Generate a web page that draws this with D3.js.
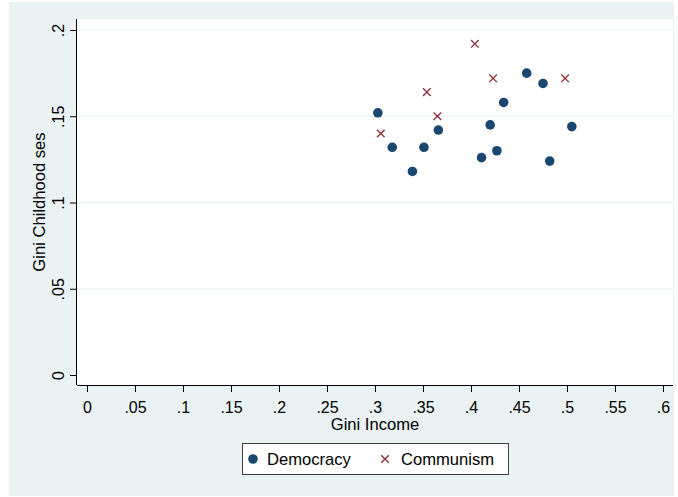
<!DOCTYPE html>
<html>
<head>
<meta charset="utf-8">
<script src="https://cdn.jsdelivr.net/npm/d3@7"></script>
<style>
  body { margin: 0; background: #fff; }
  svg text { font-family: "Liberation Sans", Arial, sans-serif; fill: #000; }
</style>
</head>
<body>
<div id="chart"></div>
<script>
// data
const democracy_x = [0.303, 0.318, 0.351, 0.339, 0.366, 0.420, 0.434, 0.411, 0.427, 0.458, 0.475, 0.482, 0.505];
const democracy_y = [0.152, 0.132, 0.132, 0.118, 0.142, 0.145, 0.158, 0.126, 0.130, 0.175, 0.169, 0.124, 0.144];
const communism_x = [0.404, 0.423, 0.498, 0.354, 0.365, 0.306];
const communism_y = [0.192, 0.172, 0.172, 0.164, 0.150, 0.140];
const x_ticks = [0, 0.05, 0.1, 0.15, 0.2, 0.25, 0.3, 0.35, 0.4, 0.45, 0.5, 0.55, 0.6];
const y_ticks = [0, 0.05, 0.1, 0.15, 0.2];

const W = 678, H = 497;
const plot = {left: 77, right: 673, top: 19, bottom: 385};

// stata style labels: ".05" instead of "0.05"
const fmt = v => v === 0 ? "0" : String(v).replace(/^0\./, ".");

const svg = d3.select("#chart")
  .append("svg")
    .attr("width", W)
    .attr("height", H);

// graph region background
svg.append("rect")
  .attr("x", 9).attr("y", 2)
  .attr("width", 665).attr("height", 494)
  .attr("fill", "#eaf2f3");

svg.append("rect")
  .attr("x", plot.left).attr("y", plot.top)
  .attr("width", plot.right - plot.left).attr("height", plot.bottom - plot.top)
  .attr("fill", "#fff");

const x = d3.scaleLinear().domain([0, 0.6]).range([87, 663]);
const y = d3.scaleLinear().domain([0, 0.2]).range([375, 30]);

// grid lines
svg.append("g")
  .selectAll("line")
  .data(y_ticks.filter(d => d > 0))
  .join("line")
    .attr("x1", plot.left).attr("x2", plot.right)
    .attr("y1", d => y(d)).attr("y2", d => y(d))
    .attr("stroke", "#eaf2f3")
    .attr("stroke-width", 1.2);

// x axis
const xAxis = svg.append("g")
  .attr("transform", `translate(0, ${plot.bottom})`)
  .call(d3.axisBottom(x).tickValues(x_ticks).tickFormat(fmt).tickSize(7).tickSizeOuter(0));
xAxis.select(".domain").attr("d", `M${plot.left},0.5H${plot.right}`).attr("stroke", "#000");
xAxis.selectAll(".tick line").attr("stroke", "#000");
xAxis.selectAll(".tick text")
  .attr("y", 27.5).attr("dy", null)
  .style("font-size", "16px");

// y axis
const yAxis = svg.append("g")
  .attr("transform", `translate(${plot.left}, 0)`)
  .call(d3.axisLeft(y).tickValues(y_ticks).tickFormat(fmt).tickSize(7).tickSizeOuter(0));
yAxis.select(".domain").attr("d", `M-0.5,${plot.top}V${plot.bottom}`).attr("stroke", "#000");
yAxis.selectAll(".tick line").attr("stroke", "#000");
yAxis.selectAll(".tick text")
  .attr("x", null).attr("dy", null)
  .attr("transform", "translate(-13,0) rotate(-90)")
  .attr("text-anchor", "middle")
  .style("font-size", "16px");

// axis titles
svg.append("text")
  .attr("x", (x(0) + x(0.6)) / 2).attr("y", 430)
  .attr("text-anchor", "middle")
  .style("font-size", "16.6px")
  .text("Gini Income");

svg.append("text")
  .attr("transform", `translate(45, ${(plot.top + plot.bottom) / 2}) rotate(-90)`)
  .attr("text-anchor", "middle")
  .style("font-size", "16.6px")
  .text("Gini Childhood ses");

// points
const dem = democracy_x.map((d, i) => ({x: d, y: democracy_y[i]}));
const com = communism_x.map((d, i) => ({x: d, y: communism_y[i]}));

svg.append("g")
  .selectAll("circle")
  .data(dem)
  .join("circle")
    .attr("cx", d => x(d.x))
    .attr("cy", d => y(d.y))
    .attr("r", 4.8)
    .attr("fill", "#1a476f");

const cross = d3.symbol().type(d3.symbolX).size(40);
svg.append("g")
  .selectAll("path")
  .data(com)
  .join("path")
    .attr("transform", d => `translate(${x(d.x)}, ${y(d.y)})`)
    .attr("d", cross)
    .attr("fill", "none")
    .attr("stroke", "#90353b")
    .attr("stroke-width", 1.4);

// legend
const legend = svg.append("g");
legend.append("rect")
  .attr("x", 242.5).attr("y", 443.5)
  .attr("width", 266).attr("height", 31)
  .attr("fill", "#fff")
  .attr("stroke", "#404040");
legend.append("circle")
  .attr("cx", 253).attr("cy", 459).attr("r", 4.8)
  .attr("fill", "#1a476f");
legend.append("text")
  .attr("x", 267).attr("y", 465)
  .style("font-size", "16.6px")
  .text("Democracy");
legend.append("path")
  .attr("transform", "translate(385, 459)")
  .attr("d", cross)
  .attr("fill", "none")
  .attr("stroke", "#90353b")
  .attr("stroke-width", 1.4);
legend.append("text")
  .attr("x", 401).attr("y", 465)
  .style("font-size", "16.6px")
  .text("Communism");
</script>
</body>
</html>
